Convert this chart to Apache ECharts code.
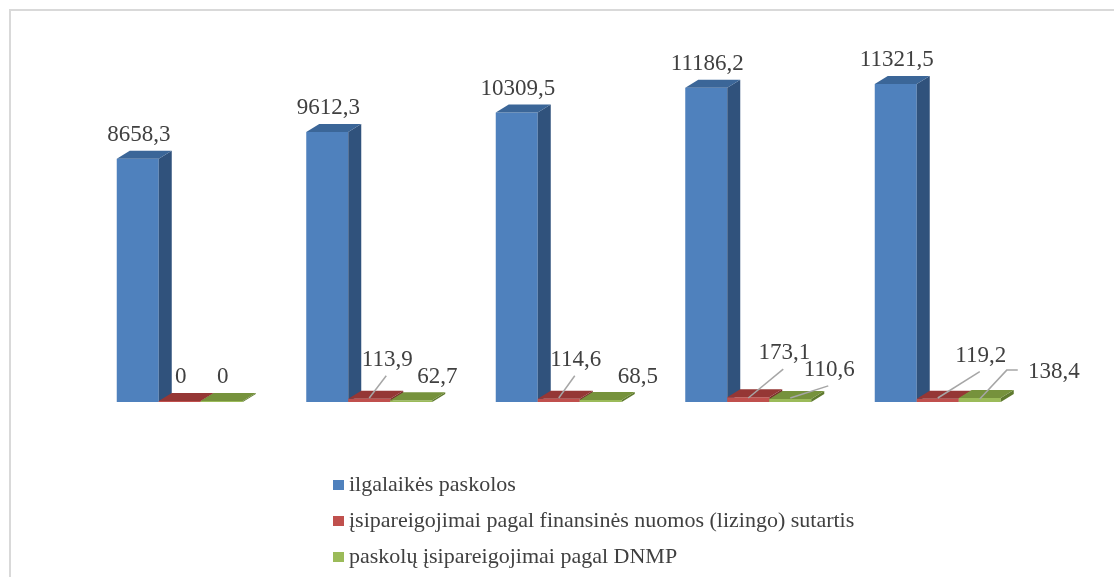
<!DOCTYPE html>
<html>
<head>
<meta charset="utf-8">
<script src="https://cdn.jsdelivr.net/npm/echarts@6/dist/echarts.min.js"></script>
<style>
  html, body { margin: 0; padding: 0; background: #fff; }
  #container { width: 1114px; height: 577px; }
</style>
</head>
<body>
<div id="container"></div>
<script>
var dom = document.getElementById("container");
var myChart = echarts.init(dom);
var option;

// data
var categories = ["1", "2", "3", "4", "5"];
var seriesNames = [
    "ilgalaikės paskolos",
    "įsipareigojimai pagal finansinės nuomos (lizingo) sutartis",
    "paskolų įsipareigojimai pagal DNMP",
];
var loans = [8658.3, 9612.3, 10309.5, 11186.2, 11321.5];
var leasing = [0, 113.9, 114.6, 173.1, 119.2];
var dnmp = [0, 62.7, 68.5, 110.6, 138.4];

// label nudges (px) and leader line kind: 0 none, 1 straight, 2 elbow
var loansShift = [[0, 0], [0, 0], [0, 0], [0, 0], [0, 0]];
var leasingShift = [[0, 0], [17, -15], [16, -15], [35, -20], [42, -19]];
var dnmpShift = [[0, 0], [25, 1], [36, 1], [38, -5], [73, -2]];
var loansLeader = [0, 0, 0, 0, 0];
var leasingLeader = [0, 1, 1, 1, 1];
var dnmpLeader = [0, 0, 0, 1, 2];

var DEPTH_X = 13;
var DEPTH_Y = 8;
var BAR_RATIO = 42 / 189.5;
var SERIF = "Times New Roman, Liberation Serif, DejaVu Serif, serif";

function fmt(v) {
    if (v === 0) return "0";
    return v.toFixed(1).replace(".", ",");
}

function bar3d(slot, colors, shifts, leaders) {
    return function (params, api) {
        var ci = api.value(0);
        var v = api.value(1);
        var base = api.coord([ci, 0]);
        var top = api.coord([ci, v]);
        var band = api.size([1, 0])[0];
        var w = band * BAR_RATIO;
        var x0 = base[0] - 1.5 * w + slot * w;
        var x1 = x0 + w;
        var yb = base[1];
        var yt = Math.min(top[1], yb - 1);
        var cx = x0 + w / 2;
        var sh = shifts[params.dataIndex];
        var lx = cx + 1 + sh[0];
        var ly = yt - 24 + sh[1];
        var kids = [
            {
                type: "rect",
                shape: { x: x0, y: yt, width: w, height: yb - yt },
                style: { fill: colors[0] },
            },
            {
                type: "polygon",
                shape: { points: [[x1, yb], [x1 + DEPTH_X, yb - DEPTH_Y], [x1 + DEPTH_X, yt - DEPTH_Y], [x1, yt]] },
                style: { fill: colors[1] },
            },
            {
                type: "polygon",
                shape: { points: [[x0, yt], [x1, yt], [x1 + DEPTH_X, yt - DEPTH_Y], [x0 + DEPTH_X, yt - DEPTH_Y]] },
                style: { fill: colors[2] },
            },
        ];
        var kind = leaders[params.dataIndex];
        if (kind === 1) {
            kids.push({
                type: "polyline",
                shape: { points: [[lx - 1, ly + 16], [cx, yb - 4]] },
                style: { stroke: "#A6A6A6", lineWidth: 1.5, fill: null },
            });
        } else if (kind === 2) {
            kids.push({
                type: "polyline",
                shape: { points: [[lx - 36, ly - 2], [lx - 47, ly - 2], [cx, yb - 3]] },
                style: { stroke: "#A6A6A6", lineWidth: 1.5, fill: null },
            });
        }
        kids.push({
            type: "text",
            x: lx,
            y: ly,
            style: {
                text: fmt(v),
                fontFamily: SERIF,
                fontSize: 23,
                fill: "#404040",
                align: "center",
                verticalAlign: "middle",
            },
        });
        return { type: "group", children: kids };
    };
}

function toData(arr) {
    return arr.map(function (v, i) {
        return [i, v];
    });
}

option = {
    animation: false,
    backgroundColor: "#ffffff",
    graphic: [
        {
            type: "polyline",
            shape: { points: [[10, 577], [10, 10], [1114, 10]] },
            style: { stroke: "#D9D9D9", lineWidth: 2, fill: null },
            z: 0,
        },
    ],
    legend: {
        data: seriesNames,
        orient: "vertical",
        left: 333,
        top: 474,
        padding: 0,
        icon: "rect",
        itemWidth: 11,
        itemHeight: 10,
        itemGap: 14,
        textStyle: {
            fontFamily: SERIF,
            fontSize: 22,
            lineHeight: 22,
            color: "#404040",
        },
    },
    grid: {
        left: 85,
        width: 947.5,
        top: 65,
        bottom: 175,
    },
    xAxis: {
        type: "category",
        data: categories,
        show: false,
    },
    yAxis: {
        type: "value",
        min: 0,
        max: 12000,
        show: false,
    },
    series: [
        {
            name: seriesNames[0],
            type: "custom",
            clip: false,
            itemStyle: { color: "#4F81BD" },
            encode: { x: 0, y: 1 },
            renderItem: bar3d(0, ["#4F81BD", "#30527C", "#3B6698"], loansShift, loansLeader),
            data: toData(loans),
        },
        {
            name: seriesNames[1],
            type: "custom",
            clip: false,
            itemStyle: { color: "#C0504D" },
            encode: { x: 0, y: 1 },
            renderItem: bar3d(1, ["#C0504D", "#7A2E2C", "#953735"], leasingShift, leasingLeader),
            data: toData(leasing),
        },
        {
            name: seriesNames[2],
            type: "custom",
            clip: false,
            itemStyle: { color: "#9BBB59" },
            encode: { x: 0, y: 1 },
            renderItem: bar3d(2, ["#9BBB59", "#5F7A2F", "#76923C"], dnmpShift, dnmpLeader),
            data: toData(dnmp),
        },
    ],
};

if (option && typeof option === "object") {
    myChart.setOption(option);
}
</script>
</body>
</html>
